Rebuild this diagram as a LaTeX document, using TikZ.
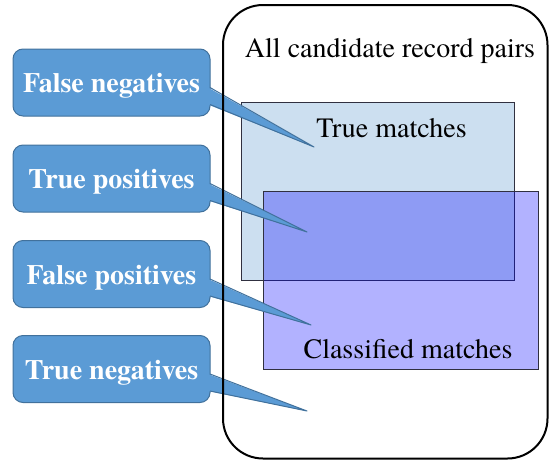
\documentclass[tikz,border=0pt]{standalone}
\usepackage{fontspec}
\setmainfont{texgyretermes}[Extension=.otf, UprightFont=*-regular, BoldFont=*-bold]
\newfontfamily\timesface{texgyretermes}[Extension=.otf, UprightFont=*-regular, BoldFont=*-bold]
\begin{document}
\begin{tikzpicture}[x=1pt,y=-1pt,
  every node/.style={inner sep=0pt, outer sep=0pt},
  calloutbox/.style={draw=calloutedge, fill=calloutfill, line width=1pt,
    rounded corners=10pt, minimum width=197pt, minimum height=67pt,
    text=white, font=\timesface\fontsize{28}{30}\selectfont\bfseries,
    text height=25pt, text depth=5pt},
  setbox/.style={draw=boxedge, line width=0.8pt},
  label/.style={font=\timesface\fontsize{28}{30}\selectfont, anchor=base}]
\definecolor{calloutfill}{HTML}{5B9BD5}
\definecolor{calloutedge}{HTML}{41719C}
\definecolor{truefill}{HTML}{CCDFF0}
\definecolor{boxedge}{HTML}{303040}

\useasboundingbox (0,0) rectangle (549,461);

% the two overlapping sets
\node[setbox, fill=truefill, minimum width=273pt, minimum height=178pt, anchor=north west]
  (tm) at (241,102) {};
\node[setbox, fill=blue, fill opacity=0.3, draw opacity=1, minimum width=275pt,
  minimum height=178pt, anchor=north west] (cm) at (263,191) {};
\node[label] (tmlabel) at (391.5,137) {True matches};
\node[label] (cmlabel) at (408,358) {Classified matches};
\node[label] (alllabel) at (390,57) {All candidate record pairs};

% points the callouts refer to
\coordinate (fntip) at (314,147);
\coordinate (tptip) at (307,232);
\coordinate (fptip) at (311,325);
\coordinate (tntip) at (307,411);

% callout boxes with their pointers
\foreach \nm/\cy/\txt in {fn/82.5/False negatives, tp/178.5/True positives,
                          fp/274/False positives, tn/369/True negatives}{
  \node[calloutbox] (\nm) at (111.5,\cy) {\txt};
  \fill[calloutfill] ([xshift=-2pt,yshift=-5pt]\nm.east) -- (\nm tip)
    -- ([xshift=-2pt,yshift=-22pt]\nm.east) -- cycle;
  \draw[calloutedge, line width=1pt, line join=round]
    ([yshift=-5pt]\nm.east) -- (\nm tip) -- ([yshift=-22pt]\nm.east);
}

% frame around all candidate record pairs
\draw[line width=2pt, rounded corners=40pt] (223,5) rectangle (547.5,458.5);
\end{tikzpicture}
\end{document}
